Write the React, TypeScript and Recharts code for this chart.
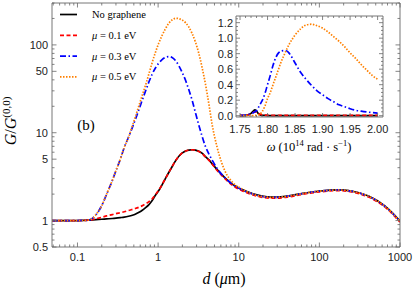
import { Label, Legend, Line, LineChart, XAxis, YAxis } from "recharts";

// main panel: separation d (μm) vs G/G(0,0)
const dMicron = [
  0.048, 0.07, 0.1, 0.137, 0.17, 0.2, 0.23, 0.27, 0.3, 0.34, 0.38, 0.43, 0.48, 0.52, 0.58, 0.63, 0.7, 0.77,
  0.84, 0.93, 1.02, 1.12, 1.23, 1.35, 1.49, 1.67, 1.98, 2.2, 2.4, 2.64, 2.9, 3.2, 3.5, 3.86, 4.27, 4.67, 5.4,
  6.8, 8.3, 11, 15, 19.5, 25, 30, 40, 60, 100, 172, 250, 407, 653, 1000,
];
const gNoGraphene = [
  1.0, 1.0, 1.0, 1.01, 1.025, 1.035, 1.045, 1.055, 1.065, 1.08, 1.095, 1.12, 1.15, 1.18, 1.24, 1.3, 1.4, 1.52,
  1.68, 1.95, 2.2, 2.55, 3.0, 3.5, 4.1, 4.9, 5.85, 6.2, 6.35, 6.4, 6.35, 6.15, 5.85, 5.35, 4.9, 4.45, 3.8,
  3.05, 2.6, 2.25, 2.02, 1.9, 1.85, 1.85, 1.9, 2.03, 2.17, 2.24, 2.17, 1.9, 1.46, 0.99,
];
const gMu01 = [
  1.0, 1.0, 1.0, 1.01, 1.05, 1.09, 1.13, 1.17, 1.2, 1.23, 1.26, 1.3, 1.34, 1.37, 1.42, 1.47, 1.55, 1.64,
  1.76, 1.98, 2.22, 2.57, 3.0, 3.5, 4.1, 4.9, 5.85, 6.2, 6.35, 6.4, 6.33, 6.12, 5.8, 5.3, 4.85, 4.4, 3.72,
  2.98, 2.53, 2.19, 1.96, 1.84, 1.8, 1.8, 1.85, 1.98, 2.12, 2.19, 2.12, 1.85, 1.42, 0.96,
];
const gMu03 = [
  1.0, 1.0, 1.0, 1.01, 1.17, 1.48, 2.0, 2.85, 3.7, 5.0, 6.8, 8.9, 11.5, 14, 18.5, 23, 30, 38,
  46, 55, 62, 68, 72, 73.6, 72, 65, 49, 39, 31, 23.5, 17, 12.2, 9.2, 7.0, 5.7, 4.9, 3.9,
  3.05, 2.6, 2.24, 2.0, 1.88, 1.84, 1.84, 1.89, 2.02, 2.16, 2.23, 2.16, 1.89, 1.45, 0.98,
];
const gMu05 = [
  1.0, 1.0, 1.0, 1.01, 1.17, 1.48, 2.0, 2.85, 3.7, 5.0, 6.8, 8.9, 12.0, 15.0, 20.5, 26, 35, 47,
  62, 83, 105, 128, 152, 175, 192, 201, 192, 178, 160, 135, 108, 80, 56, 36, 21, 12.5, 6.8,
  3.6, 2.75, 2.28, 2.0, 1.88, 1.84, 1.84, 1.89, 2.02, 2.16, 2.23, 2.16, 1.89, 1.45, 0.98,
];

// inset: frequency ω (10^14 rad/s)
const omega = [
  1.75, 1.76, 1.765, 1.77, 1.774, 1.777, 1.78, 1.783, 1.786, 1.79, 1.795, 1.8, 1.805, 1.81, 1.815, 1.82, 1.825,
  1.83, 1.835, 1.84, 1.85, 1.86, 1.87, 1.88, 1.89, 1.9, 1.91, 1.92, 1.93, 1.94, 1.95, 1.96, 1.97, 1.98, 1.99, 2.0,
];
const sNoGraphene = [
  0.002, 0.005, 0.012, 0.03, 0.058, 0.075, 0.06, 0.03, 0.012, 0.005, 0.003, 0.002, 0.002, 0.002, 0.002, 0.002,
  0.002, 0.002, 0.002, 0.002, 0.002, 0.002, 0.002, 0.002, 0.002, 0.002, 0.002, 0.002, 0.002, 0.002, 0.002, 0.002,
  0.002, 0.002, 0.002, 0.002,
];
const sMu01 = [
  0.003, 0.006, 0.012, 0.025, 0.04, 0.048, 0.045, 0.032, 0.02, 0.012, 0.008, 0.006, 0.005, 0.005, 0.004, 0.004,
  0.004, 0.004, 0.004, 0.004, 0.004, 0.004, 0.004, 0.004, 0.004, 0.004, 0.004, 0.004, 0.004, 0.004, 0.004, 0.004,
  0.004, 0.004, 0.004, 0.004,
];
const sMu03 = [
  0.004, 0.008, 0.014, 0.025, 0.038, 0.05, 0.065, 0.1, 0.14, 0.19, 0.28, 0.4, 0.52, 0.65, 0.75, 0.81, 0.835,
  0.84, 0.835, 0.8, 0.68, 0.56, 0.47, 0.39, 0.32, 0.27, 0.22, 0.18, 0.14, 0.115, 0.09, 0.07, 0.058, 0.048, 0.04,
  0.033,
];
const sMu05 = [
  0, 0, 0, 0.001, 0.002, 0.003, 0.005, 0.01, 0.02, 0.05, 0.12, 0.22, 0.3, 0.4, 0.5, 0.6, 0.7,
  0.78, 0.86, 0.93, 1.04, 1.12, 1.17, 1.18, 1.16, 1.13, 1.08, 1.02, 0.96, 0.89, 0.81, 0.74, 0.66, 0.59, 0.52,
  0.47,
];

const xTickLabels = [0.1, 1, 10, 100, 1000];
const yTickLabels = [0.5, 1, 5, 10, 50, 100];
const insetXTickLabels = [1.75, 1.8, 1.85, 1.9, 1.95, 2.0];
const insetYTickLabels = [0, 0.2, 0.4, 0.6, 0.8, 1.0, 1.2];
const muLabels = ["0.1", "0.3", "0.5"];

const FRAME = "#666";
const INK = "#222";
const SANS = "'Liberation Sans', Arial, sans-serif";
const SERIF = "'Liberation Serif', 'Times New Roman', serif";

const series = [
  { key: "g0", color: "#000000", dash: undefined as string | undefined, width: 1.7 },
  { key: "g1", color: "#ff0000", dash: "4 2.5", width: 1.7 },
  { key: "g3", color: "#0000ff", dash: "6 2.5 1.5 2.5", width: 1.7 },
  { key: "g5", color: "#ff8000", dash: "1.5 1.5", width: 1.7 },
];

const mainData = dMicron.map((d, i) => ({ d, g0: gNoGraphene[i], g1: gMu01[i], g3: gMu03[i], g5: gMu05[i] }));
const insetData = omega.map((w, i) => ({ w, g0: sNoGraphene[i], g1: sMu01[i], g3: sMu03[i], g5: sMu05[i] }));

const X_DOMAIN: [number, number] = [0.0483, 1000];
const Y_DOMAIN: [number, number] = [0.5, 300];
const IX_DOMAIN: [number, number] = [1.7427, 2.0098];
const IY_DOMAIN: [number, number] = [-0.017, 1.286];

// all 1..9 x 10^k positions inside the range (minor log ticks)
function logTicks([lo, hi]: [number, number]) {
  const out: number[] = [];
  for (let k = -3; k <= 3; k++)
    for (let m = 1; m <= 9; m++) {
      const v = +(m * Math.pow(10, k)).toPrecision(3);
      if (v >= lo && v <= hi) out.push(v);
    }
  return out;
}
function linTicks([lo, hi]: [number, number], step: number) {
  const out: number[] = [];
  for (let v = Math.ceil(lo / step) * step; v <= hi + 1e-9; v += step) out.push(+v.toFixed(4));
  return out;
}

const isMajor = (labels: number[], v: number) => labels.some((t) => Math.abs(t - v) < 1e-6 * Math.max(1, Math.abs(t)));

type Side = "bottom" | "top" | "left" | "right";

function makeTick(side: Side, labels: number[], fmt: (v: number) => string, majorLen: number, minorLen: number, gap: number) {
  return (props: any) => {
    const { x, y, payload } = props;
    const v = payload.value as number;
    const major = isMajor(labels, v);
    const len = major ? majorLen : minorLen;
    let x2 = x;
    let y2 = y;
    if (side === "bottom") y2 = y - len;
    if (side === "top") y2 = y + len;
    if (side === "left") x2 = x + len;
    if (side === "right") x2 = x - len;
    return (
      <g>
        <line x1={x} y1={y} x2={x2} y2={y2} stroke={FRAME} strokeWidth={0.8} />
        {major && side === "bottom" && (
          <text x={x} y={y + gap} textAnchor="middle" fontFamily={SANS} fontSize={11} fill={INK}>
            {fmt(v)}
          </text>
        )}
        {major && side === "left" && (
          <text x={x - gap} y={y + 4} textAnchor="end" fontFamily={SANS} fontSize={11} fill={INK}>
            {fmt(v)}
          </text>
        )}
      </g>
    );
  };
}

const axisCommon = {
  type: "number" as const,
  allowDataOverflow: true,
  interval: 0 as const,
  tickSize: 0,
  tickMargin: 0,
  tickLine: false,
  axisLine: { stroke: FRAME, strokeWidth: 0.9 },
};

function renderLines() {
  return series.map((s) => (
    <Line
      key={s.key}
      type="monotone"
      dataKey={s.key}
      stroke={s.color}
      strokeWidth={s.width}
      strokeDasharray={s.dash}
      dot={false}
      activeDot={false}
      isAnimationActive={false}
    />
  ));
}

function LegendBox() {
  const names = ["No graphene", ...muLabels];
  return (
    <svg width={150} height={90} style={{ display: "block" }}>
      {names.map((n, i) => {
        const y = 10.5 + i * 20.8;
        const s = series[i];
        return (
          <g key={n}>
            <line x1={5} x2={22} y1={y} y2={y} stroke={s.color} strokeWidth={s.width} strokeDasharray={s.dash} />
            <text x={37} y={y + 3.5} fontFamily={SERIF} fontSize={10.5} fill="#000">
              {i === 0 ? (
                n
              ) : (
                <>
                  <tspan fontStyle="italic">μ</tspan>
                  <tspan> = {n} eV</tspan>
                </>
              )}
            </text>
          </g>
        );
      })}
    </svg>
  );
}

export default function App() {
  const mainXTicks = logTicks(X_DOMAIN);
  const mainYTicks = logTicks(Y_DOMAIN);
  const insetXTicks = linTicks(IX_DOMAIN, 0.01);
  const insetYTicks = linTicks(IY_DOMAIN, 0.05);

  return (
    <div style={{ position: "absolute", left: 0, top: 0, width: 415, height: 292, background: "#fff" }}>
      <LineChart width={415} height={292} data={mainData} margin={{ top: 0, right: 0, bottom: 0, left: 0 }}>
        <XAxis
          {...axisCommon}
          dataKey="d"
          scale="log"
          domain={X_DOMAIN}
          ticks={mainXTicks}
          height={45}
          tick={makeTick("bottom", xTickLabels, (v) => String(v), 4.5, 2.5, 13.5)}
        >
          <Label
            content={() => (
              <text x={224} y={284} textAnchor="middle" fontFamily={SERIF} fontSize={16} fill="#000">
                <tspan fontStyle="italic">d</tspan>
                <tspan> (</tspan>
                <tspan fontStyle="italic">μ</tspan>
                <tspan>m)</tspan>
              </text>
            )}
          />
        </XAxis>
        <XAxis
          {...axisCommon}
          xAxisId="top"
          orientation="top"
          dataKey="d"
          scale="log"
          domain={X_DOMAIN}
          ticks={mainXTicks}
          height={3}
          tick={makeTick("top", xTickLabels, String, 4.5, 2.5, 0)}
        />
        <YAxis
          {...axisCommon}
          scale="log"
          domain={Y_DOMAIN}
          ticks={mainYTicks}
          width={52}
          tick={makeTick("left", yTickLabels, (v) => String(v), 4.5, 2.5, 4)}
        >
          <Label
            content={() => (
              <text transform="translate(16,121) rotate(-90)" textAnchor="middle" fontFamily={SERIF} fontSize={16} fill="#000">
                <tspan fontStyle="italic">G</tspan>
                <tspan>/</tspan>
                <tspan fontStyle="italic">G</tspan>
                <tspan dy={-6} fontSize={11}>(0,0)</tspan>
              </text>
            )}
          />
        </YAxis>
        <YAxis
          {...axisCommon}
          yAxisId="right"
          orientation="right"
          scale="log"
          domain={Y_DOMAIN}
          ticks={mainYTicks}
          width={15}
          tick={makeTick("right", yTickLabels, String, 4.5, 2.5, 0)}
        />
        <Legend
          layout="vertical"
          align="center"
          verticalAlign="middle"
          wrapperStyle={{ left: 55, top: 4, width: 150, height: 90 }}
          content={() => <LegendBox />}
        />
        {renderLines()}
      </LineChart>

      <div style={{ position: "absolute", left: 0, top: 0, pointerEvents: "none" }}>
        <LineChart width={415} height={292} data={insetData} margin={{ top: 14, right: 30, bottom: 145, left: 206 }}>
          <XAxis
            {...axisCommon}
            dataKey="w"
            domain={IX_DOMAIN}
            ticks={insetXTicks}
            height={30}
            tick={makeTick("bottom", insetXTickLabels, (v) => v.toFixed(2), 4, 2, 15.5)}
          >
            <Label
              content={() => (
                <text x={309} y={151} textAnchor="middle" fontFamily={SERIF} fontSize={12.5} fill="#000">
                  <tspan fontStyle="italic">ω</tspan>
                  <tspan> (10</tspan>
                  <tspan dy={-5} fontSize={8.5}>14</tspan>
                  <tspan dy={5}> rad · s</tspan>
                  <tspan dy={-5} fontSize={8.5}>−1</tspan>
                  <tspan dy={5}>)</tspan>
                </text>
              )}
            />
          </XAxis>
          <XAxis
            {...axisCommon}
            xAxisId="top"
            orientation="top"
            dataKey="w"
            domain={IX_DOMAIN}
            ticks={insetXTicks}
            height={2}
            tick={makeTick("top", insetXTickLabels, String, 4, 2, 0)}
          />
          <YAxis
            {...axisCommon}
            domain={IY_DOMAIN}
            ticks={insetYTicks}
            width={30}
            tick={makeTick("left", insetYTickLabels, (v) => v.toFixed(1), 4, 2, 3)}
          />
          <YAxis
            {...axisCommon}
            yAxisId="right"
            orientation="right"
            domain={IY_DOMAIN}
            ticks={insetYTicks}
            width={2}
            tick={makeTick("right", insetYTickLabels, String, 4, 2, 0)}
          />
          {renderLines()}
        </LineChart>
      </div>

      <svg width={120} height={40} style={{ position: "absolute", left: 60, top: 105 }}>
        <text x={26} y={25} textAnchor="middle" fontFamily={SERIF} fontSize={15} fill="#000">
          (b)
        </text>
      </svg>
    </div>
  );
}
